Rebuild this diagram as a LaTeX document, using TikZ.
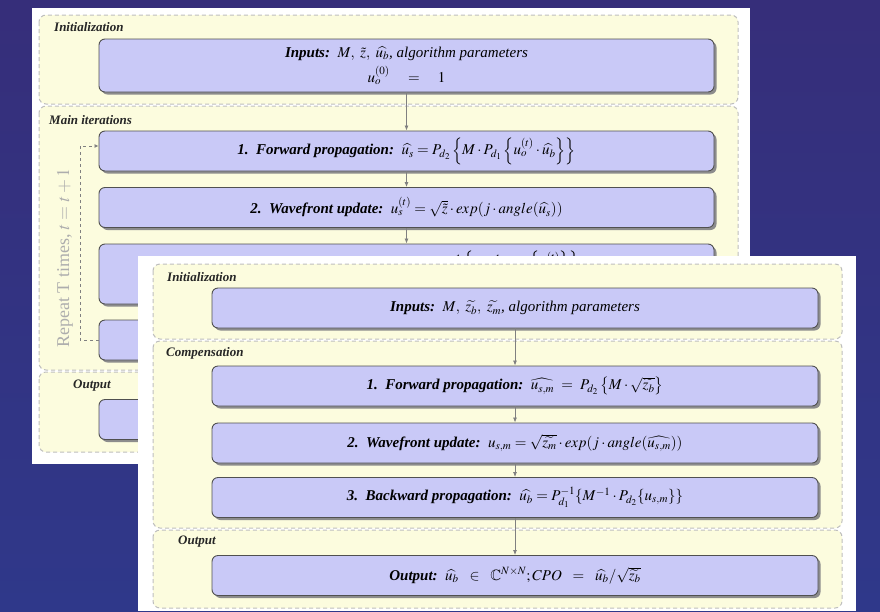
\documentclass[tikz,border=0pt]{standalone}
\usepackage{amsmath}
\usepackage{amssymb}
\usepackage{mathptmx}
\usepackage{fontspec}
\setmainfont{Liberation Serif}
\usepackage{xcolor}
\definecolor{algbgtop}{HTML}{362E7A}
\definecolor{algbgbot}{HTML}{2F388A}
\definecolor{algbox}{HTML}{C9C9F7}
\definecolor{algedge}{HTML}{505050}
\definecolor{algsec}{HTML}{FCFCDE}
\definecolor{algsecedge}{HTML}{BEBEBE}
\definecolor{algarrow}{HTML}{808080}
\usepackage{tikz}
\usetikzlibrary{arrows.meta, shadows, calc}

\begin{document}
\begin{tikzpicture}[x=1pt, y=-1pt,
  section/.style={fill=algsec, draw=algsecedge, dash pattern=on 4pt off 3pt,
    line width=1pt, rounded corners=7pt},
  seclabel/.style={anchor=west, inner sep=0pt, text=black!85,
    font=\fontsize{13}{15}\selectfont\bfseries\itshape},
  stepbox/.style={rectangle, rounded corners=6pt, draw=algedge, line width=0.9pt,
    fill=algbox, minimum height=40pt, align=center, inner sep=0pt,
    font=\fontsize{15}{18}\selectfont\itshape,
    drop shadow={shadow xshift=2.5pt, shadow yshift=-2.5pt, fill=black!45, opacity=1}},
  backbox/.style={stepbox, minimum width=615pt},
  frontbox/.style={stepbox, minimum width=606pt},
  arrow/.style={-{Latex[length=5pt, width=4pt]}, algarrow, line width=0.8pt},
  loopline/.style={dashed, algarrow, line width=0.8pt}
]
\useasboundingbox (0,0) rectangle (880,611);
\shade[top color=algbgtop, bottom color=algbgbot] (0,0) rectangle (880,611);

% back panel: estimation algorithm
\fill[white] (32,8) rectangle (750,464);
\draw[section] (39,15) rectangle (738,104);
\draw[section] (39,106) rectangle (738,370);
\draw[section] (39,372) rectangle (738,452);
\node[seclabel] (binitlbl) at (54,27) {Initialization};
\node[seclabel] (bmainlbl) at (49,120) {Main iterations};
\node[seclabel] (boutlbl) at (73,386) {Output};

\node[backbox, minimum height=53pt] (binput) at (406.5,65.5)
  {\textbf{Inputs:}\ \ $M,\ \tilde{z},\ \widehat{u_b}$, algorithm parameters\\[5pt]
   $u_o^{(0)}\quad=\quad 1$};
\node[backbox] (bfwd) at (406.5,151)
  {\textbf{1.\ \ Forward propagation:}\ \ $\widehat{u_s} = P_{d_2}\left\{M\cdot P_{d_1}\left\{u_o^{(t)}\cdot\widehat{u_b}\right\}\right\}$};
\node[backbox] (bwave) at (406.5,207.5)
  {\textbf{2.\ \ Wavefront update:}\ \ $u_s^{(t)} = \sqrt{\tilde{z}}\cdot exp(j\cdot angle(\widehat{u_s}))$};
\node[backbox, minimum height=60pt] (bback) at (406.5,274)
  {\textbf{3.\ \ Backward propagation:}\ \ $\widehat{u_b} = P^{-1}_{d_1}\left\{M^{-1}\cdot P_{d_2}\left\{u_s^{(t)}\right\}\right\}$\\ \strut};
\node[backbox] (bupd) at (406.5,340) {};
\node[backbox] (bout) at (406.5,419.5) {};

\draw[arrow] (binput) -- (bfwd);
\draw[arrow] (bfwd) -- (bwave);
\draw[arrow] (bwave) -- (bback);
\draw[arrow] (bback) -- (bupd);
\draw[arrow] (bupd) -- (bout);

% repeat loop
\coordinate (loopbot) at (80,340);
\coordinate (looptop) at (80,146);
\draw[loopline, -{Latex[length=4pt, width=4pt]}] (bupd.west) -- (loopbot) -- (looptop) -- (bfwd.west |- looptop);
\node[rotate=90, text=black!32, font=\fontsize{18}{20}\selectfont] (repeat) at (65,258)
  {Repeat T times, $t = t + 1$};

% front panel: compensation
\fill[white] (138,256) rectangle (856,611);
\draw[section] (153,264) rectangle (842,339);
\draw[section] (153,341) rectangle (842,528);
\draw[section] (153,530) rectangle (842,608);
\node[seclabel] (finitlbl) at (167,277) {Initialization};
\node[seclabel] (fcomplbl) at (166,353) {Compensation};
\node[seclabel] (foutlbl) at (178,542) {Output};

\node[frontbox] (finput) at (515,308)
  {\textbf{Inputs:}\ \ $M,\ \widetilde{z_b},\ \widetilde{z_m}$, algorithm parameters};
\node[frontbox] (ffwd) at (515,386)
  {\textbf{1.\ \ Forward propagation:}\ \ $\widehat{u_{s,m}}\ =\ P_{d_2}\left\{M\cdot\sqrt{\widetilde{z_b}}\right\}$};
\node[frontbox] (fwave) at (515,443)
  {\textbf{2.\ \ Wavefront update:}\ \ $u_{s,m} = \sqrt{\widetilde{z_m}}\cdot exp(j\cdot angle(\widehat{u_{s,m}}))$};
\node[frontbox] (fback) at (515,497.5)
  {\textbf{3.\ \ Backward propagation:}\ \ $\widehat{u_b} = P^{-1}_{d_1}\{M^{-1}\cdot P_{d_2}\{u_{s,m}\}\}$};
\node[frontbox] (fout) at (515,575.5)
  {\textbf{Output:}\ \ $\widehat{u_b}\ \ \in\ \ \mathbb{C}^{N\times N}; CPO\ \ =\ \ \widehat{u_b}/\sqrt{\widetilde{z_b}}$};

\draw[arrow] (finput) -- (ffwd);
\draw[arrow] (ffwd) -- (fwave);
\draw[arrow] (fwave) -- (fback);
\draw[arrow] (fback) -- (fout);
\end{tikzpicture}
\end{document}
